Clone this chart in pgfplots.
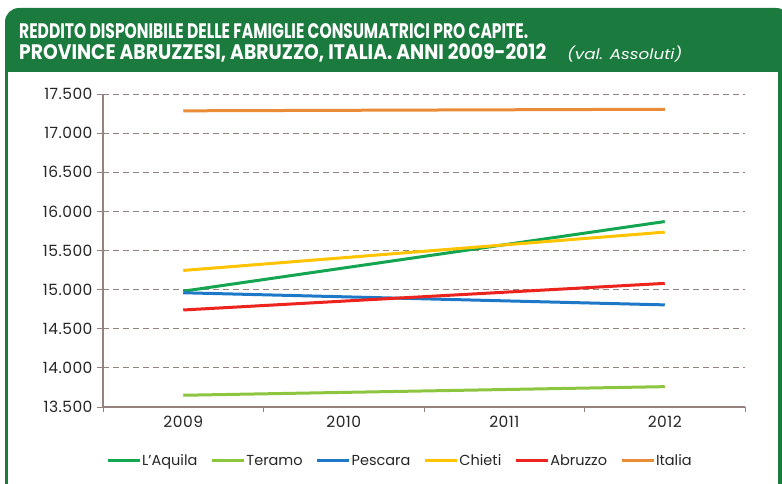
\documentclass[border=0pt]{standalone}
\usepackage{pgfplots}
\pgfplotsset{compat=1.18}
\usepackage{fontspec}
\setmainfont{Poppins}
\newfontfamily\titlefont[FakeStretch=0.7]{Poppins}
\newfontfamily\tickfont[LetterSpace=3]{Poppins}
\definecolor{hdr}{RGB}{27,122,62}
\definecolor{cAq}{RGB}{20,165,80}
\definecolor{cTe}{RGB}{140,198,63}
\definecolor{cPe}{RGB}{30,120,200}
\definecolor{cCh}{RGB}{255,195,0}
\definecolor{cAb}{RGB}{237,35,30}
\definecolor{cIt}{RGB}{234,140,55}
\definecolor{axc}{RGB}{150,130,125}
\begin{document}
\begin{tikzpicture}
\useasboundingbox (0,0) rectangle (782pt,483pt);
\fill[white] (0,0) rectangle (782pt,483pt);
% frame
\draw[hdr, line width=3.5pt] (6.5pt,415pt) -- (6.5pt,-10pt);
\draw[hdr, line width=4pt] (780pt,415pt) -- (780pt,-10pt);
\fill[hdr] (5pt,411pt) [rounded corners=14pt] -- (5pt,475pt) -- (790pt,475pt) [sharp corners] -- (790pt,411pt) -- cycle;
\node[anchor=base west, inner sep=0pt, text=white, font=\titlefont\bfseries\fontsize{21}{23}\selectfont] at (19pt,444pt) {\resizebox{509pt}{\height}{REDDITO DISPONIBILE DELLE FAMIGLIE CONSUMATRICI PRO CAPITE.}};
\node[anchor=base west, inner sep=0pt, text=white, font=\titlefont\bfseries\fontsize{21}{23}\selectfont] at (19pt,423pt) {\resizebox{527pt}{\height}{PROVINCE ABRUZZESI, ABRUZZO, ITALIA. ANNI 2009-2012}};
\node[anchor=base west, inner sep=0pt, text=white, font=\itshape\fontsize{14.5}{16}\selectfont] at (567pt,423pt) {\resizebox{115pt}{\height}{(val. Assoluti)}};
\begin{axis}[
  at={(103pt,76pt)}, anchor=south west,
  scale only axis, width=642pt, height=313pt,
  xmin=-0.5, xmax=3.5, ymin=13500, ymax=17500,
  scaled y ticks=false,
  xtick={0,1,2,3}, xticklabels={2009,2010,2011,2012},
  minor xtick={-0.5,0.5,1.5,2.5,3.5},
  ytick={13500,14000,14500,15000,15500,16000,16500,17000,17500},
  yticklabels={13.500,14.000,14.500,15.000,15.500,16.000,16.500,17.000,17.500},
  axis x line*=bottom, axis y line*=left,
  axis line style={axc, line width=1.2pt, -},
  tick align=outside,
  major tick length=6pt, minor tick length=5pt,
  xtick style={draw=none},
  minor x tick style={draw=axc, line width=1pt},
  ytick style={draw=axc, line width=1pt},
  ymajorgrids,
  grid style={axc, line width=0.9pt, dash pattern=on 6pt off 4pt},
  tick label style={font=\tickfont\fontsize{15.5}{17}\selectfont, text=black!85},
  yticklabel style={xshift=-1pt},
  legend columns=6,
  legend style={draw=none, fill=none, at={(0.0,-0.1725)}, anchor=west,
    font=\fontsize{14.5}{16}\selectfont, text=black!85,
    /tikz/every even column/.append style={column sep=12pt},
    nodes={inner sep=1pt}},
  legend image code/.code={\draw[#1, line width=3pt] (0pt,0pt) -- (32pt,0pt);},
  every axis plot/.append style={line width=3pt},
]
\addplot[cAq] coordinates {(0,14980) (3,15870)};
\addlegendentry{L'Aquila}
\addplot[cTe] coordinates {(0,13650) (3,13760)};
\addlegendentry{Teramo}
\addplot[cPe] coordinates {(0,14960) (3,14805)};
\addlegendentry{Pescara}
\addplot[cCh] coordinates {(0,15245) (3,15735)};
\addlegendentry{Chieti}
\addplot[cAb] coordinates {(0,14740) (3,15080)};
\addlegendentry{Abruzzo}
\addplot[cIt] coordinates {(0,17285) (3,17305)};
\addlegendentry{Italia}
\end{axis}
\end{tikzpicture}
\end{document}
